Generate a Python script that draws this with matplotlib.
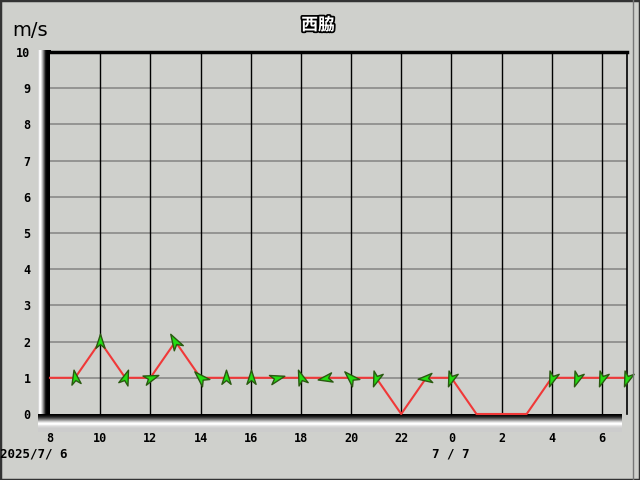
import numpy as np
import matplotlib.pyplot as plt
from matplotlib.path import Path
from matplotlib.patches import Rectangle
import matplotlib.patheffects as pe

# data: hours since 0:00 on 7/6, wind speed (m/s), arrow heading (deg, ccw from up)
hours = [8, 9, 10, 11, 12, 13, 14, 15, 16, 17, 18, 19, 20, 21, 22, 23,
         24, 25, 26, 27, 28, 29, 30, 31]
speed = [1, 1, 2, 1, 1, 2, 1, 1, 1, 1, 1, 1, 1, 1, 0, 1,
         1, 0, 0, 0, 1, 1, 1, 1]
heading = [None, 10, 0, -20, -70, 30, 45, 0, 0, -75, 20, 100, 45, 160, None, 95,
           160, None, None, None, 160, 160, 160, 160]
tick_pos = [8, 10, 12, 14, 16, 18, 20, 22, 24, 26, 28, 30]
tick_lab = ['8', '10', '12', '14', '16', '18', '20', '22', '0', '2', '4', '6']
yticks = list(range(0, 11))

W, H = 640, 480
BG = '#cfd0cc'


def px(x0, y0, x1, y1):
    # pixel box (top-left origin) -> figure fraction
    return [x0 / W, 1 - y1 / H, (x1 - x0) / W, (y1 - y0) / H]


def arrow_marker(angle):
    v = np.array([[0, 1], [-0.55, -0.7], [0, -0.25], [0.55, -0.7], [0, 1]])
    a = np.deg2rad(angle)
    r = np.array([[np.cos(a), -np.sin(a)], [np.sin(a), np.cos(a)]])
    return Path(v @ r.T, [1, 2, 2, 2, 79])


fig = plt.figure(figsize=(6.4, 4.8), dpi=100, facecolor=BG)

# left wall (3D look)
wall = fig.add_axes(px(38, 50, 51, 430))
g = np.array([0.85, 0.97, 1.0, 0.88, 0.7, 0.5, 0.3, 0.1, 0.02, 0.0, 0.0, 0.0, 0.0])
wall.imshow(np.tile(g, (10, 1)), cmap='gray', vmin=0, vmax=1, aspect='auto')
wall.axis('off')

# floor
floor = fig.add_axes(px(38, 414, 622, 432))
f = np.array([0.0, 0.05, 0.12, 0.22, 0.35, 0.5, 0.65, 0.8, 0.92, 1.0, 0.98, 0.9, 0.85, 0.82, 0.8, 0.8, 0.8, 0.8])
floor.imshow(np.tile(f[:, None], (1, 10)), cmap='gray', vmin=0, vmax=1, aspect='auto')
floor.axis('off')

ax = fig.add_axes(px(50, 52, 627, 414))
ax.set_facecolor(BG)
ax.set_xlim(8, 31)
ax.set_ylim(0, 10)
for s in ['left', 'bottom']:
    ax.spines[s].set_visible(False)
ax.spines['top'].set_color('black')
ax.spines['top'].set_linewidth(2.5)
ax.spines['right'].set_color('black')
ax.spines['right'].set_linewidth(1.2)

for y in yticks[1:]:
    ax.axhline(y, color='#8a8a88', lw=1.2, zorder=1)
for x in tick_pos[1:]:
    ax.axvline(x, color='black', lw=1, zorder=1)

ax.plot(hours, speed, color='#f03838', lw=1.5, zorder=3, clip_on=False)
for h, s, d in zip(hours, speed, heading):
    if d is None:
        continue
    ax.plot(h, s, marker=arrow_marker(d), ms=12, mfc='#22dd11', mec='#2a5a10',
            mew=1.0, ls='none', zorder=4, clip_on=False)

ax.set_xticks(tick_pos)
ax.set_xticklabels(tick_lab)
ax.set_yticks(yticks)
ax.tick_params(length=0, labelsize=8.5)
for lab in ax.get_xticklabels() + ax.get_yticklabels():
    lab.set_fontfamily('DejaVu Sans Mono')
    lab.set_fontweight('bold')
ax.tick_params(axis='x', pad=13)
ax.tick_params(axis='y', pad=14)

fig.text(12 / W, 1 - 30 / H, 'm/s', fontsize=14, va='center', ha='left')
fig.text(318 / W, 1 - 25 / H, '西脇', fontsize=12, fontweight='bold',
         family=['Noto Sans CJK JP', 'DejaVu Sans'], color='white', ha='center', va='center',
         path_effects=[pe.withStroke(linewidth=2.5, foreground='black')])
fig.text(0 / W, 1 - 454 / H, '2025/7/ 6', fontsize=9, fontweight='bold',
         family='DejaVu Sans Mono', ha='left', va='center')
fig.text(451 / W, 1 - 454 / H, '7 / 7', fontsize=9, fontweight='bold',
         family='DejaVu Sans Mono', ha='center', va='center')

# frame and right edge line
fig.patches.append(Rectangle((0, 0), 1, 1, transform=fig.transFigure, fill=False,
                             ec='#333333', lw=2.5))
fig.add_artist(plt.Line2D([633 / W, 633 / W], [1 - 480 / H, 1], color='#777777', lw=1))

fig.savefig('out.png', dpi=100, facecolor=BG)
